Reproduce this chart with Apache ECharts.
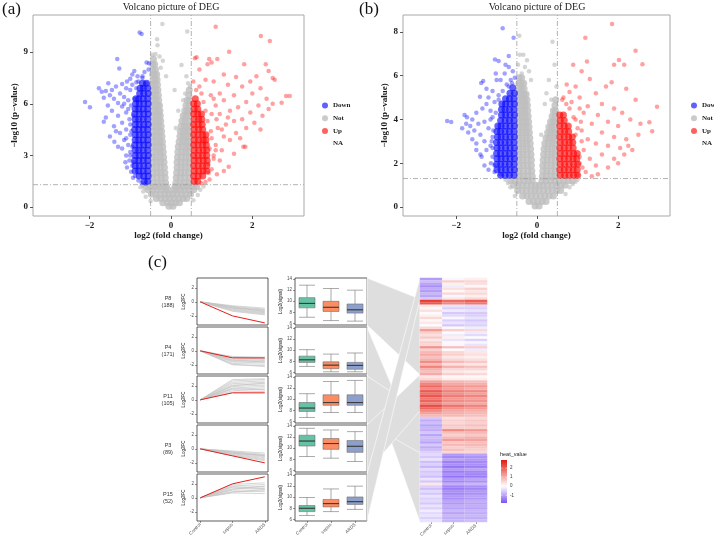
<!DOCTYPE html>
<html><head><meta charset="utf-8">
<script src="https://cdn.jsdelivr.net/npm/echarts@6/dist/echarts.min.js"></script>
<style>html,body{margin:0;padding:0;background:#fff}#c{width:714px;height:540px}</style>
</head><body><div id="c"></div>
<script>
// ---------------- DATA ----------------
const LEGEND_NAMES = ['Down','Not','Up','NA'];
const FC_CUT = 0.5, P_CUT = 1.3;
const XTICKS_A = [-2,0,2], YTICKS_A = [0,3,6,9];
const XTICKS_B = [-2,0,2], YTICKS_B = [0,2,4,6,8];

// rows: [y, x1, x2, ...]  (dense cores)
const notCoreA = [
[0.05,-0.05,0.05],
[0.25,-0.2,-0.09,0.02,0.12,0.21],
[0.5,-0.36,-0.25,-0.14,-0.03,0.08,0.19,0.3,0.39],
[0.75,-0.48,-0.37,-0.26,-0.15,-0.05,0.05,0.15,0.26,0.37,0.48],
[1.0,-0.56,-0.45,-0.34,-0.23,-0.13,-0.07,0.07,0.13,0.23,0.34,0.45,0.56],
[1.2,-0.63,-0.52,-0.41,-0.3,-0.2,-0.11,0.1,0.19,0.29,0.4,0.51,0.63],
[1.4,-0.44,-0.33,-0.23,-0.13,0.12,0.22,0.33,0.44],
[1.7,-0.45,-0.34,-0.24,-0.14,0.13,0.23,0.34,0.45],
[2.0,-0.44,-0.34,-0.25,-0.15,0.14,0.24,0.34,0.44],
[2.3,-0.45,-0.35,-0.26,-0.16,0.15,0.25,0.35,0.45],
[2.6,-0.44,-0.35,-0.26,-0.17,0.15,0.25,0.35,0.44],
[2.9,-0.45,-0.36,-0.27,-0.18,0.16,0.26,0.36,0.45],
[3.2,-0.44,-0.35,-0.27,-0.19,0.17,0.27,0.36,0.44],
[3.5,-0.45,-0.36,-0.28,-0.2,0.18,0.28,0.37,0.45],
[3.8,-0.44,-0.36,-0.28,-0.21,0.2,0.29,0.37,0.44],
[4.1,-0.45,-0.37,-0.29,-0.22,0.22,0.3,0.38,0.45],
[4.4,-0.44,-0.36,-0.29,-0.23,0.23,0.31,0.38,0.44],
[4.7,-0.45,-0.37,-0.3,-0.24,0.25,0.33,0.39,0.45],
[5.0,-0.44,-0.37,-0.3,-0.25,0.27,0.35,0.44],
[5.3,-0.45,-0.37,-0.31,-0.26,0.3,0.37,0.44],
[5.6,-0.44,-0.37,-0.31,-0.27,0.34,0.4,0.45],
[5.9,-0.45,-0.38,-0.32,-0.28,0.37,0.44],
[6.2,-0.44,-0.37,-0.3,0.4,0.45],
[6.5,-0.45,-0.38,-0.31,0.44],
[6.8,-0.44,-0.38,-0.32,0.45],
[7.1,-0.45,-0.39,-0.33],
[7.4,-0.44,-0.39,-0.34],
[7.7,-0.45,-0.4,-0.35],
[8.0,-0.44,-0.38],
[8.3,-0.45,-0.4],
[8.6,-0.43]
];
const notScA = [[-0.21,10.64],[-0.34,9.75],[-0.33,9.4],[0.4,10.2],[0.26,8.26],[0.09,6.8],[-0.38,8.9],[-0.28,8.75],[-0.46,8.85],[-0.2,8.5],[-0.12,7.6],[-0.25,8.1],[0.35,6.6],[0.42,7.2],[0.3,6.2],[0.47,7.0],[0.18,5.6],[0.12,4.6],[0.38,7.6],[-0.68,0.9],[0.72,1.0],[0.8,1.2],[-0.75,1.15],[0.66,0.7],[-0.62,0.6],[0.55,0.4],[-0.5,0.35],[0.6,1.25],[-0.7,1.25]];
const downCoreA = [
[1.5,-0.57,-0.66],
[1.8,-0.56,-0.67,-0.78],
[2.1,-0.57,-0.68,-0.79,-0.88],
[2.4,-0.56,-0.67,-0.78,-0.88],
[2.7,-0.57,-0.68,-0.79,-0.89],
[3.0,-0.56,-0.67,-0.78,-0.88],
[3.3,-0.57,-0.68,-0.79,-0.88],
[3.6,-0.56,-0.67,-0.78,-0.89],
[3.9,-0.57,-0.68,-0.79,-0.88],
[4.2,-0.56,-0.67,-0.78,-0.88],
[4.5,-0.57,-0.68,-0.79,-0.89],
[4.8,-0.56,-0.67,-0.78,-0.88],
[5.1,-0.57,-0.68,-0.79,-0.88],
[5.4,-0.56,-0.67,-0.78,-0.89],
[5.7,-0.57,-0.68,-0.79,-0.88],
[6.0,-0.56,-0.67,-0.78,-0.87],
[6.3,-0.57,-0.68,-0.79,-0.86],
[6.6,-0.56,-0.67,-0.77],
[6.9,-0.57,-0.68,-0.76],
[7.2,-0.6,-0.7]
];
const downScA = [[-0.77,10.15],[-0.72,10.05],[-1.32,8.6],[-1.27,8.05],[-0.6,8.4],[-0.54,8.35],[-0.55,8.0],[-0.65,7.85],[-0.9,7.9],[-0.95,7.7],[-0.82,7.6],[-1.0,7.45],[-0.7,7.5],[-1.08,7.3],[-1.54,7.2],[-1.2,7.15],[-1.35,7.0],[-1.77,6.9],[-1.7,6.7],[-1.6,6.75],[-1.45,6.8],[-1.1,6.9],[-1.25,6.6],[-1.5,6.5],[-1.15,6.4],[-1.65,6.35],[-1.4,6.3],[-1.05,6.2],[-2.11,6.1],[-1.3,6.05],[-1.99,5.8],[-1.55,5.9],[-1.2,5.85],[-1.45,5.6],[-1.1,5.5],[-1.3,5.3],[-1.6,5.2],[-1.02,5.1],[-1.65,4.96],[-1.2,4.9],[-1.4,4.7],[-1.1,4.5],[-1.25,4.3],[-1.0,4.2],[-1.5,4.1],[-1.39,3.8],[-1.15,3.9],[-1.05,3.6],[-1.2,3.4],[-1.0,3.2],[-1.1,3.0],[-1.02,2.7],[-0.95,2.4],[-1.08,2.3],[-0.98,2.05],[-0.88,1.8],[-0.8,1.55],[-0.72,1.4],[-0.62,1.35],[-0.93,1.7],[-1.12,2.6],[-1.3,3.5],[-1.35,4.4],[-0.95,7.1],[-0.85,7.25],[-1.0,6.8],[-1.15,6.0],[-1.05,5.7],[-1.0,4.8],[-1.1,4.0],[-0.93,2.6],[-0.95,3.5],[-0.97,4.4],[-0.92,5.3],[-0.9,6.3],[-0.85,6.9],[-0.7,7.6],[-0.6,7.2],[-1.0,3.0],[-0.98,5.9],[-0.8,7.3]];
const upCoreA = [
[1.5,0.57,0.66],
[1.8,0.56,0.67,0.78],
[2.1,0.57,0.68,0.79,0.88],
[2.4,0.56,0.67,0.78,0.88],
[2.7,0.57,0.68,0.79,0.89],
[3.0,0.56,0.67,0.78,0.88],
[3.3,0.57,0.68,0.79,0.88],
[3.6,0.56,0.67,0.78,0.87],
[3.9,0.57,0.68,0.79,0.86],
[4.2,0.56,0.67,0.78,0.86],
[4.5,0.57,0.68,0.78],
[4.8,0.56,0.67,0.77],
[5.1,0.57,0.68,0.76],
[5.4,0.56,0.66,0.75],
[5.7,0.57,0.66],
[6.0,0.56,0.65],
[6.3,0.6]
];
const upScA = [[1.1,10.48],[2.21,9.94],[2.43,9.65],[1.43,9.03],[0.59,8.64],[0.63,8.7],[0.94,8.6],[1.14,8.6],[0.9,8.3],[1.0,8.4],[1.8,8.3],[2.33,8.3],[2.4,7.9],[2.55,7.4],[2.5,7.5],[2.92,6.45],[2.83,6.45],[2.72,6.06],[0.7,8.0],[1.3,7.7],[1.6,7.55],[1.95,7.3],[2.1,7.6],[1.05,7.3],[1.75,7.0],[2.2,6.9],[1.4,7.1],[0.85,7.4],[2.0,6.6],[2.35,6.3],[1.55,6.5],[1.2,6.6],[2.5,6.0],[1.85,6.1],[2.15,5.9],[1.3,6.2],[1.65,5.8],[2.4,5.7],[1.05,6.3],[1.95,5.5],[1.45,5.6],[2.25,5.3],[1.2,5.4],[1.75,5.1],[1.1,5.9],[1.55,5.0],[2.05,4.9],[1.35,4.8],[1.15,4.6],[1.85,4.6],[1.6,4.3],[1.3,4.1],[2.2,4.5],[1.45,3.9],[1.1,3.6],[1.78,3.5],[1.83,3.5],[1.25,3.3],[1.05,3.0],[1.55,3.1],[1.2,2.7],[1.42,2.34],[1.13,1.9],[1.0,2.2],[0.95,1.6],[0.85,1.45],[1.3,2.1],[0.75,1.38],[1.25,4.5],[1.4,5.2],[1.0,4.0],[1.12,5.1],[1.7,4.0],[0.98,6.5],[0.92,2.5],[0.95,3.4],[0.98,4.4],[0.9,5.0],[0.85,5.6],[0.8,6.1],[0.75,6.6],[0.7,7.0],[0.62,6.8],[0.55,7.3],[1.0,5.4],[0.93,2.0],[1.05,2.8],[1.1,3.3]];

const notCoreB = [
[0.05,-0.05,0.05],
[0.25,-0.2,-0.09,0.02,0.13,0.22],
[0.5,-0.36,-0.25,-0.14,-0.03,0.08,0.19,0.3,0.4],
[0.75,-0.48,-0.37,-0.26,-0.15,-0.05,0.05,0.16,0.27,0.38,0.49,0.58],
[1.0,-0.58,-0.47,-0.36,-0.25,-0.14,-0.04,0.05,0.15,0.26,0.37,0.48,0.59,0.69],
[1.2,-0.65,-0.55,-0.44,-0.33,-0.22,-0.12,0.12,0.22,0.33,0.44,0.55,0.66,0.77,0.87],
[1.4,-0.44,-0.34,-0.23,-0.12,0.13,0.23,0.34,0.44],
[1.65,-0.45,-0.34,-0.23,-0.13,0.14,0.24,0.34,0.45],
[1.9,-0.44,-0.34,-0.24,-0.14,0.14,0.24,0.35,0.44],
[2.15,-0.45,-0.35,-0.25,-0.14,0.15,0.25,0.35,0.45],
[2.4,-0.44,-0.35,-0.25,-0.15,0.16,0.26,0.36,0.44],
[2.65,-0.45,-0.35,-0.26,-0.16,0.17,0.27,0.36,0.45],
[2.9,-0.44,-0.35,-0.26,-0.17,0.19,0.28,0.37,0.44],
[3.15,-0.45,-0.36,-0.27,-0.18,0.22,0.3,0.38,0.45],
[3.4,-0.44,-0.36,-0.27,-0.19,0.26,0.33,0.4,0.45],
[3.65,-0.45,-0.36,-0.28,-0.2,0.29,0.36,0.43],
[3.9,-0.44,-0.36,-0.28,-0.21,0.33,0.39,0.45],
[4.15,-0.45,-0.37,-0.29,-0.22,0.37,0.44],
[4.4,-0.44,-0.37,-0.3,-0.23,0.4,0.45],
[4.65,-0.45,-0.37,-0.3,-0.24,0.44],
[4.9,-0.44,-0.37,-0.31,-0.25,0.46],
[5.15,-0.45,-0.38,-0.32,-0.27],
[5.4,-0.44,-0.38,-0.32],
[5.65,-0.45,-0.39,-0.33],
[5.9,-0.44,-0.38]
];
const notScB = [[-0.44,7.82],[-0.43,6.95],[-0.34,6.95],[-0.47,6.5],[-0.2,6.2],[-0.3,6.4],[-0.38,6.1],[0.38,7.55],[0.43,6.5],[0.29,5.8],[0.23,5.2],[0.35,4.9],[0.19,4.7],[-0.25,6.7],[-0.15,5.8],[0.1,3.3],[0.48,5.5],[0.95,1.15],[0.88,1.05],[0.8,0.9],[-0.72,1.1],[-0.66,0.9],[0.7,0.6],[-0.55,0.5],[1.0,1.25],[-0.78,1.25]];
const downCoreB = [
[1.45,-0.57,-0.68,-0.79,-0.9],
[1.7,-0.56,-0.67,-0.78,-0.89,-0.99],
[1.95,-0.57,-0.68,-0.79,-0.9,-1.0],
[2.2,-0.56,-0.67,-0.78,-0.89,-0.99],
[2.45,-0.57,-0.68,-0.79,-0.9,-1.0],
[2.7,-0.56,-0.67,-0.78,-0.89,-0.99],
[2.95,-0.57,-0.68,-0.79,-0.9,-1.0],
[3.2,-0.56,-0.67,-0.78,-0.89,-0.98],
[3.45,-0.57,-0.68,-0.79,-0.9,-0.99],
[3.7,-0.56,-0.67,-0.78,-0.89,-0.97],
[3.95,-0.57,-0.68,-0.79,-0.9],
[4.2,-0.56,-0.67,-0.78,-0.88],
[4.45,-0.57,-0.68,-0.79,-0.88],
[4.7,-0.56,-0.67,-0.78,-0.87],
[4.95,-0.57,-0.68,-0.78],
[5.2,-0.56,-0.67],
[5.45,-0.6]
];
const downScB = [[-0.85,8.16],[-0.58,7.73],[-0.7,6.9],[-1.04,6.74],[-0.95,6.67],[-0.78,6.5],[-0.7,6.4],[-0.8,6.1],[-0.6,6.2],[-0.55,5.9],[-0.65,5.8],[-1.33,5.75],[-1.38,5.66],[-1.0,5.8],[-0.9,5.8],[-0.75,5.6],[-1.41,5.04],[-1.1,5.3],[-0.95,5.1],[-1.2,5.0],[-1.05,4.8],[-2.22,3.93],[-2.12,3.88],[-1.79,4.2],[-1.73,4.1],[-1.6,4.0],[-1.5,4.3],[-1.35,4.5],[-1.25,4.7],[-1.15,4.4],[-1.45,3.8],[-1.65,3.7],[-1.3,3.9],[-1.55,3.5],[-1.2,3.6],[-1.4,3.3],[-1.7,3.4],[-1.1,3.2],[-1.3,3.0],[-1.5,2.9],[-1.15,2.8],[-1.6,3.1],[-1.25,2.6],[-1.4,2.4],[-1.14,2.0],[-1.37,2.3],[-1.2,1.7],[-1.05,1.6],[-0.91,1.5],[-1.1,2.3],[-1.3,1.9],[-1.5,2.6],[-1.75,3.8],[-1.85,3.6],[-1.1,4.1],[-1.25,5.4],[-1.02,6.1],[-1.05,1.9],[-1.1,2.7],[-1.08,3.5],[-1.02,4.3],[-0.95,4.9],[-0.85,5.3],[-0.7,5.5],[-0.62,5.65],[-1.12,3.0],[-1.15,4.0]];
const upCoreB = [
[1.45,0.57,0.68,0.79,0.9,1.0],
[1.7,0.56,0.67,0.78,0.89,0.99],
[1.95,0.57,0.68,0.79,0.9,1.0],
[2.2,0.56,0.67,0.78,0.89,0.98],
[2.45,0.57,0.68,0.79,0.9,0.99],
[2.7,0.56,0.67,0.78,0.89],
[2.95,0.57,0.68,0.79,0.88],
[3.2,0.56,0.67,0.78,0.87],
[3.45,0.57,0.68,0.78],
[3.7,0.56,0.67,0.77],
[3.95,0.57,0.67],
[4.2,0.56,0.65]
];
const upScB = [[1.85,8.36],[1.19,7.73],[2.43,7.14],[2.02,6.71],[1.23,6.65],[1.9,6.5],[2.15,6.5],[2.6,6.52],[0.89,6.5],[1.1,6.2],[1.3,5.85],[1.84,5.7],[2.2,5.4],[0.73,5.6],[0.8,5.25],[2.96,4.58],[2.43,4.9],[2.77,3.87],[2.84,3.46],[1.6,4.7],[0.95,5.5],[0.65,5.0],[1.05,5.0],[1.45,5.2],[1.7,5.5],[0.85,4.8],[1.25,4.6],[1.9,4.5],[2.1,4.3],[2.3,4.0],[1.5,4.2],[1.15,4.3],[1.75,3.9],[2.0,3.7],[2.55,3.8],[1.35,3.8],[1.1,3.5],[1.6,3.4],[1.9,3.2],[2.2,3.1],[2.5,3.3],[1.25,3.1],[1.45,2.9],[1.75,2.8],[2.05,2.7],[2.35,2.6],[1.15,2.6],[1.6,2.4],[1.9,2.2],[2.15,2.4],[1.3,2.2],[1.05,2.0],[1.45,1.9],[1.75,1.8],[1.2,1.6],[1.0,1.45],[1.5,1.5],[2.0,2.0],[2.25,2.8],[1.35,1.4],[0.95,4.0],[1.05,4.5],[1.05,2.3],[1.1,3.0],[1.0,3.6],[0.95,3.3],[0.9,4.1],[0.8,4.5],[0.72,4.7],[0.62,4.9],[1.12,1.8],[1.08,3.9]];

// ---- panel (c) ----
const CATS = ['Control','sepsis','ARDS'];
const CLUSTERS = ['P8','P4','P11','P3','P15'];
const CLUSTER_N = [188,171,105,89,52];
const HEAT_ORDER = ['P15','P8','P3','P11','P4'];
const PROFILES = [[0,-2,-3],[0,-1,-1],[0,1,1],[0,-1,-2],[0,2,3]];
const GRAY_P8 = [[0,-0.55,-0.9],[0,-0.65,-1.05],[0,-0.75,-1.2],[0,-0.85,-1.3],[0,-0.95,-1.45],[0,-1.05,-1.55],[0,-1.15,-1.65],[0,-1.25,-1.75],[0,-1.35,-1.85],[0,-0.7,-1.4],[0,-0.9,-1.1]];
const GRAY_P4 = [[0,-0.8,-0.9],[0,-1.0,-1.1],[0,-1.2,-1.3],[0,-1.4,-1.5],[0,-1.6,-1.7],[0,-1.8,-1.9],[0,-2.0,-2.1],[0,-1.9,-2.25],[0,-0.9,-1.2],[0,-1.3,-1.6],[0,-1.5,-1.4]];
const GRAY_P11 = [[0,1.1,1.2],[0,1.3,1.5],[0,1.5,1.7],[0,1.7,1.9],[0,1.9,2.1],[0,2.1,2.3],[0,2.3,2.5],[0,2.5,2.7],[0,2.7,2.9],[0,2.9,3.0],[0,2.0,2.4],[0,1.6,1.4]];
const GRAY_P3 = [[0,-0.3,-0.6],[0,-0.4,-0.8],[0,-0.5,-0.95],[0,-0.6,-1.1],[0,-0.7,-1.25],[0,-0.8,-1.4],[0,-0.9,-1.55],[0,-0.95,-1.7],[0,-0.45,-1.0],[0,-0.65,-0.9]];
const GRAY_P15 = [[0,0.7,0.6],[0,0.9,0.9],[0,1.1,1.1],[0,1.3,1.4],[0,1.5,1.6],[0,1.7,1.9],[0,1.9,2.15],[0,1.2,1.7],[0,0.8,1.2],[0,1.6,1.3]];
// boxplot [min, Q1, median, Q3, max] for Control, sepsis, ARDS
const BOX_P8 = [[7.1,8.8,9.6,10.65,12.9],[6.5,8.15,8.9,9.98,12.3],[6.4,7.85,8.45,9.5,12.0]];
const BOX_P4 = [[7.07,7.8,8.27,8.93,10.1],[6.1,6.66,7.3,7.9,9.3],[6.1,6.55,7.25,7.8,9.5]];
const BOX_P11 = [[6.7,7.8,8.4,9.4,11.0],[7.6,8.9,9.4,10.8,13.2],[7.6,8.9,9.4,10.8,13.4]];
const BOX_P3 = [[8.5,10.4,11.3,12.35,13.6],[8.2,9.8,10.85,11.75,13.3],[7.6,9.25,10.35,11.4,13.0]];
const BOX_P15 = [[6.7,7.4,8.0,8.5,9.95],[7.4,8.25,8.85,9.6,11.5],[7.8,8.7,9.2,10.05,12.0]];
// heatmap rows [Control, sepsis, ARDS]
const HEAT_P15 = [[-1.1,-0.1,0.2],[-0.7,0.6,0.5],[-1.0,0.2,0.4],[-1.2,-0.2,0.1],[-0.9,0.4,0.6],[-1.1,0.1,0.3],[-0.8,0.5,0.5],[-1.0,-0.1,0.2],[-0.6,0.3,0.5]];
const HEAT_P8 = [[2.5,1.9,2.1],[2.1,1.5,1.7],[0.3,-0.3,-0.4],[0.1,-0.5,-0.5],[0.4,-0.2,-0.3],[0.0,-0.6,-0.6],[0.2,-0.4,-0.5],[0.5,-0.1,-0.3],[0.1,-0.5,-0.6],[0.3,-0.3,-0.4],[0.0,-0.6,-0.5],[0.5,0.1,-0.2],[1.3,0.6,0.5],[0.6,0.0,-0.2],[0.4,-0.2,-0.4],[0.7,0.2,0.0],[0.3,-0.3,-0.5],[0.6,0.1,-0.1],[0.5,-0.1,-0.3],[1.4,0.8,0.6],[0.6,0.0,-0.2],[0.9,0.5,0.3],[1.1,0.6,0.4],[0.8,0.3,0.2],[1.0,0.5,0.4],[1.5,0.9,0.7],[0.9,0.4,0.3],[1.6,1.0,0.8],[1.0,0.5,0.5],[0.8,0.3,0.2],[1.1,0.6,0.5]];
const HEAT_P3 = [[0.3,0.1,0.1],[0.5,0.2,0.2],[1.2,0.9,0.8],[1.6,1.1,1.0],[1.9,1.4,1.3],[1.5,1.2,1.0],[2.1,1.6,1.5],[1.8,1.4,1.2],[2.2,1.7,1.6],[1.7,1.3,1.2],[2.0,1.5,1.4],[1.6,1.2,1.1],[2.3,1.8,1.6],[1.9,1.4,1.3],[1.5,1.1,1.0]];
const HEAT_P11 = [[1.2,1.0,0.9],[0.9,0.9,0.8],[-0.6,0.4,0.5],[-0.9,0.6,0.7],[-0.7,0.5,0.6],[-1.0,0.7,0.8],[-0.8,0.6,0.6],[-0.9,1.5,1.3],[-0.6,0.8,0.9],[-1.0,0.6,0.7],[-0.7,0.9,1.0],[-0.8,1.3,1.2],[-1.0,0.7,0.8],[-0.6,0.9,0.9],[-0.9,0.6,0.7],[-0.7,0.8,0.6],[-0.5,0.5,0.5]];
const HEAT_P4 = [[-0.4,-1.1,-1.0],[-0.6,-1.3,-1.2],[-0.3,-1.0,-1.1],[-0.7,-1.4,-1.3],[-0.5,-1.2,-1.2],[-0.8,-1.5,-1.4],[-0.4,-1.1,-1.0],[-0.6,-1.4,-1.3],[-0.5,-1.2,-1.3],[-0.7,-1.5,-1.4],[-0.3,-1.1,-1.0],[-0.6,-1.3,-1.2],[0.3,-0.9,-0.8],[-0.5,-1.3,-1.2],[-0.7,-1.4,-1.3],[-0.4,-1.2,-1.1],[-0.6,-1.3,-1.2],[-0.3,-1.1,-1.0],[-0.5,-1.2,-1.1],[-0.4,-1.0,-0.9],[-0.6,-1.1,-1.0],[-0.3,-0.9,-0.9],[-0.5,-1.0,-1.0],[-0.2,-0.8,-0.8],[-0.4,-1.0,-0.9],[-0.3,-0.8,-0.8],[-0.5,-0.9,-0.9],[-0.3,-0.8,-0.7]];
const HEAT_MIN = -1.85, HEAT_MAX = 2.9, HEAT_TICKS = [2,1,0,-1];

// ---------------- LAYOUT / STYLE ----------------
const SERIF = 'Liberation Serif', SANS = 'Liberation Sans';
const ROW_TOP = [278,327,376,425,474], ROW_H = 47;
const BOX_COLORS = ['#66C2A5','#FC8D62','#8DA0CB'];
const GRAY_LINES = [GRAY_P8,GRAY_P4,GRAY_P11,GRAY_P3,GRAY_P15];
const BOXES = [BOX_P8,BOX_P4,BOX_P11,BOX_P3,BOX_P15];
const HEAT_BY = {P15:HEAT_P15,P8:HEAT_P8,P3:HEAT_P3,P11:HEAT_P11,P4:HEAT_P4};

function rowsToPts(rows){const o=[];rows.forEach(r=>{for(let i=1;i<r.length;i++)o.push([r[i],r[0]]);});return o;}
function minus(v){return v<0?'\u2212'+Math.abs(v):String(v);}
function hex2rgb(h){return [parseInt(h.slice(1,3),16),parseInt(h.slice(3,5),16),parseInt(h.slice(5,7),16)];}
function mix(a,b,t){const A=hex2rgb(a),B=hex2rgb(b);return 'rgb('+A.map((x,i)=>Math.round(x+(B[i]-x)*t)).join(',')+')';}
function heatColor(v){if(v<0)return mix('#FFFFFF','#7B52F2',Math.min(1,-v/1.85));return mix('#FFFFFF','#E3190D',Math.min(1,v/2.9));}

const grid=[],xAxis=[],yAxis=[],series=[],graphic=[];
const serifTxt={fontFamily:SERIF,fontWeight:'bold',fontSize:9,color:'#1a1a1a'};
const NOLINE={show:false,onZero:false};

function volcano(gi,g,ax,xt,yt,d){
  grid.push({left:g[0],top:g[1],width:g[2],height:g[3],show:true,borderColor:'#A8A8A8',borderWidth:1});
  xAxis.push({gridIndex:gi,type:'value',min:ax[0],max:ax[1],splitLine:{show:false},axisLine:NOLINE,
    axisTick:{show:true,customValues:xt,length:3,lineStyle:{color:'#555'}},
    axisLabel:Object.assign({customValues:xt,formatter:minus,margin:5},serifTxt),
    name:'log2 (fold change)',nameLocation:'middle',nameGap:14,nameTextStyle:serifTxt});
  yAxis.push({gridIndex:gi,type:'value',min:ax[2],max:ax[3],splitLine:{show:false},axisLine:NOLINE,
    axisTick:{show:true,customValues:yt,length:3,lineStyle:{color:'#555'}},
    axisLabel:Object.assign({customValues:yt,formatter:minus,margin:5},serifTxt),
    name:'\u2212log10 (p\u2212value)',nameLocation:'middle',nameGap:11,nameRotate:90,nameTextStyle:serifTxt});
  const base={type:'scatter',xAxisIndex:gi,yAxisIndex:gi,symbol:'circle',silent:true};
  series.push(Object.assign({},base,{name:'Down',data:rowsToPts(d.downCore),symbolSize:7,itemStyle:{color:'rgba(0,0,255,0.78)'},z:4}));
  series.push(Object.assign({},base,{name:'Not',data:rowsToPts(d.notCore),symbolSize:7,itemStyle:{color:'#BEBEBE'},z:2}));
  series.push(Object.assign({},base,{name:'Up',data:rowsToPts(d.upCore),symbolSize:7,itemStyle:{color:'rgba(255,0,0,0.78)'},z:4}));
  series.push(Object.assign({},base,{name:'NA',data:[],itemStyle:{color:'rgba(0,0,0,0)'}}));
  series.push(Object.assign({},base,{name:'Down',data:d.downSc,symbolSize:4.5,itemStyle:{color:'rgba(20,20,255,0.5)'},z:4}));
  series.push(Object.assign({},base,{name:'Not',data:d.notSc,symbolSize:4.5,itemStyle:{color:'rgba(190,190,190,0.8)'},z:2}));
  series.push(Object.assign({},base,{name:'Up',data:d.upSc,symbolSize:4.5,itemStyle:{color:'rgba(255,20,20,0.5)'},z:4}));
  const ls={color:'#A0A0A0',width:0.8,type:[5,2,1,2]};
  [[[-FC_CUT,ax[2]],[-FC_CUT,ax[3]]],[[FC_CUT,ax[2]],[FC_CUT,ax[3]]],[[ax[0],P_CUT],[ax[1],P_CUT]]].forEach(dd=>{
    series.push({type:'line',xAxisIndex:gi,yAxisIndex:gi,data:dd,symbol:'none',silent:true,lineStyle:ls,z:3});
  });
}
volcano(0,[33,15,271,201],[-3.39,3.27,-0.52,11.16],XTICKS_A,YTICKS_A,
  {notCore:notCoreA,notSc:notScA,downCore:downCoreA,downSc:downScA,upCore:upCoreA,upSc:upScA});
volcano(1,[403,15,267,201],[-3.31,3.28,-0.41,8.77],XTICKS_B,YTICKS_B,
  {notCore:notCoreB,notSc:notScB,downCore:downCoreB,downSc:downScB,upCore:upCoreB,upSc:upScB});

const smallTxt={fontFamily:SANS,fontSize:4.5,color:'#4D4D4D'};
// line plots (grids 2..6)
for(let i=0;i<5;i++){
  const gi=2+i, last=i===4;
  grid.push({left:197,top:ROW_TOP[i],width:71,height:ROW_H,show:true,borderColor:'#333',borderWidth:0.8});
  xAxis.push({gridIndex:gi,type:'value',min:-0.1,max:2.1,splitLine:{show:false},axisLine:NOLINE,
    axisTick:{show:last,customValues:[0,1,2],length:2,lineStyle:{color:'#333',width:0.5}},
    axisLabel:Object.assign({show:last,customValues:[0,1,2],formatter:v=>CATS[Math.round(v)],rotate:45,margin:3},smallTxt)});
  yAxis.push({gridIndex:gi,type:'value',min:-3.3,max:3.4,splitLine:{show:false},axisLine:NOLINE,
    axisTick:{show:true,customValues:[-2,0,2],length:2,lineStyle:{color:'#333',width:0.5}},
    axisLabel:Object.assign({customValues:[-2,0,2],margin:3},smallTxt),
    name:'Log2FC',nameLocation:'middle',nameGap:10,nameRotate:90,nameTextStyle:{fontFamily:SANS,fontSize:4.5,color:'#222'}});
  GRAY_LINES[i].forEach(l=>series.push({type:'line',xAxisIndex:gi,yAxisIndex:gi,data:l.map((v,k)=>[k,v]),symbol:'none',silent:true,lineStyle:{color:'#C4C4C4',width:0.7},z:2}));
  series.push({type:'line',xAxisIndex:gi,yAxisIndex:gi,data:PROFILES[i].map((v,k)=>[k,v]),symbol:'none',silent:true,lineStyle:{color:'#E3201B',width:1},z:3});
  graphic.push({type:'text',x:168,y:ROW_TOP[i]+ROW_H/2,style:{text:CLUSTERS[i]+'\n('+CLUSTER_N[i]+')',font:'5.5px '+SANS,fill:'#333',align:'center',verticalAlign:'middle',lineHeight:7}});
}
// boxplots (grids 7..11)
for(let i=0;i<5;i++){
  const gi=7+i, last=i===4;
  grid.push({left:295,top:ROW_TOP[i],width:72,height:ROW_H,show:true,borderColor:'#333',borderWidth:0.8});
  xAxis.push({gridIndex:gi,type:'category',data:CATS,boundaryGap:true,axisLine:NOLINE,
    axisTick:{show:last,alignWithLabel:true,length:2,lineStyle:{color:'#333',width:0.5}},
    axisLabel:Object.assign({show:last,rotate:45,margin:3},smallTxt)});
  yAxis.push({gridIndex:gi,type:'value',min:5.7,max:14.2,splitLine:{show:false},axisLine:NOLINE,
    axisTick:{show:true,customValues:[6,8,10,12,14],length:2,lineStyle:{color:'#333',width:0.5}},
    axisLabel:Object.assign({customValues:[6,8,10,12,14],margin:3},smallTxt),
    name:'Log2(signal)',nameLocation:'middle',nameGap:11,nameRotate:90,nameTextStyle:{fontFamily:SANS,fontSize:4.5,color:'#222'}});
  series.push({type:'boxplot',xAxisIndex:gi,yAxisIndex:gi,boxWidth:[16,16],silent:true,
    data:BOXES[i].map((b,k)=>({value:b,itemStyle:{color:BOX_COLORS[k],borderColor:'#707070',borderWidth:0.6}}))});
  series.push({type:'scatter',xAxisIndex:gi,yAxisIndex:gi,symbol:'rect',symbolSize:[16,1.1],silent:true,z:5,
    itemStyle:{color:'#2a2a2a'},data:BOXES[i].map((b,k)=>[k,b[2]])});
}
// sankey bands (grid 12)
const TOTAL = CLUSTER_N.reduce((a,b)=>a+b,0);
grid.push({left:367,top:278,width:53,height:244});
xAxis.push({gridIndex:12,type:'value',min:0,max:1,show:false});
yAxis.push({gridIndex:12,type:'value',min:0,max:TOTAL,inverse:true,show:false});
series.push({type:'custom',xAxisIndex:12,yAxisIndex:12,silent:true,z:1,
  data:CLUSTERS.map((c,i)=>[i]),
  renderItem:function(params,api){
    const i=api.value(0), name=CLUSTERS[i];
    let start=0;
    for(const h of HEAT_ORDER){if(h===name)break;start+=CLUSTER_N[CLUSTERS.indexOf(h)];}
    const end=start+CLUSTER_N[i];
    const pL=api.coord([0,0]), pR1=api.coord([1,start]), pR2=api.coord([1,end]);
    const pts=[[pL[0],ROW_TOP[i]],[pR1[0],pR1[1]],[pR2[0],pR2[1]],[pL[0],ROW_TOP[i]+ROW_H]];
    return {type:'polygon',shape:{points:pts},style:{fill:'#DEDEDE',stroke:'#FFFFFF',lineWidth:0.6}};
  }});
// heatmap (grid 13)
const heatRows=[];HEAT_ORDER.forEach(h=>HEAT_BY[h].forEach(r=>heatRows.push(r)));
const heatData=[];heatRows.forEach((r,ri)=>r.forEach((v,ci)=>heatData.push([ci,ri,v])));
grid.push({left:420,top:278,width:67,height:244});
xAxis.push({gridIndex:13,type:'category',data:CATS,axisLine:NOLINE,axisTick:{show:true,alignWithLabel:true,length:2,lineStyle:{color:'#333',width:0.5}},
  axisLabel:Object.assign({rotate:45,margin:3},smallTxt)});
yAxis.push({gridIndex:13,type:'category',data:heatRows.map((r,i)=>String(i)),inverse:true,show:false});
const heatIdx=series.length;
series.push({type:'heatmap',xAxisIndex:13,yAxisIndex:13,data:heatData,silent:true,itemStyle:{borderColor:'rgba(255,255,255,0.6)',borderWidth:0.25}});
const COLS=[];for(let k=0;k<=47;k++)COLS.push(heatColor(HEAT_MIN+k*(HEAT_MAX-HEAT_MIN)/47));

// heat legend
const stops=[];for(let k=0;k<=20;k++)stops.push({offset:k/20,color:heatColor(HEAT_MAX-k/20*(HEAT_MAX-HEAT_MIN))});
const LB_TOP=460,LB_H=43;
graphic.push({type:'text',x:500,y:451,style:{text:'heat_value',font:'5.5px '+SANS,fill:'#222'}});
graphic.push({type:'rect',shape:{x:501,y:LB_TOP,width:6,height:LB_H},style:{fill:new echarts.graphic.LinearGradient(0,0,0,1,stops)}});
HEAT_TICKS.forEach(v=>{
  const y=LB_TOP+(HEAT_MAX-v)/(HEAT_MAX-HEAT_MIN)*LB_H;
  graphic.push({type:'text',x:510,y:y,style:{text:String(v),font:'4.5px '+SANS,fill:'#333',verticalAlign:'middle'}});
  graphic.push({type:'line',shape:{x1:501,y1:y,x2:502.5,y2:y},style:{stroke:'#fff',lineWidth:0.5}});
  graphic.push({type:'line',shape:{x1:505.5,y1:y,x2:507,y2:y},style:{stroke:'#fff',lineWidth:0.5}});
});
// titles & panel labels
graphic.push({type:'text',x:171,y:7,style:{text:'Volcano picture of DEG',font:'10px '+SERIF,fill:'#222',align:'center',verticalAlign:'middle'}});
graphic.push({type:'text',x:537,y:7,style:{text:'Volcano picture of DEG',font:'10px '+SERIF,fill:'#222',align:'center',verticalAlign:'middle'}});
graphic.push({type:'text',x:2,y:10,style:{text:'(a)',font:'17px '+SERIF,fill:'#111',verticalAlign:'middle'}});
graphic.push({type:'text',x:359,y:10,style:{text:'(b)',font:'17px '+SERIF,fill:'#111',verticalAlign:'middle'}});
graphic.push({type:'text',x:148,y:263,style:{text:'(c)',font:'17px '+SERIF,fill:'#111',verticalAlign:'middle'}});

const legendBase={orient:'vertical',itemWidth:6,itemHeight:6,itemGap:5.7,icon:'circle',selectedMode:false,
  textStyle:{fontFamily:SERIF,fontWeight:'bold',fontSize:7,color:'#222'},data:LEGEND_NAMES};
const chart=echarts.init(document.getElementById('c'),null,{renderer:'canvas'});
chart.setOption({
  animation:false,backgroundColor:'#fff',
  grid,xAxis,yAxis,series,graphic,
  legend:[Object.assign({left:317,top:97},legendBase),Object.assign({left:686,top:97},legendBase)],
  visualMap:[{type:'continuous',show:false,seriesIndex:heatIdx,dimension:2,min:HEAT_MIN,max:HEAT_MAX,inRange:{color:COLS}}]
});
</script></body></html>
